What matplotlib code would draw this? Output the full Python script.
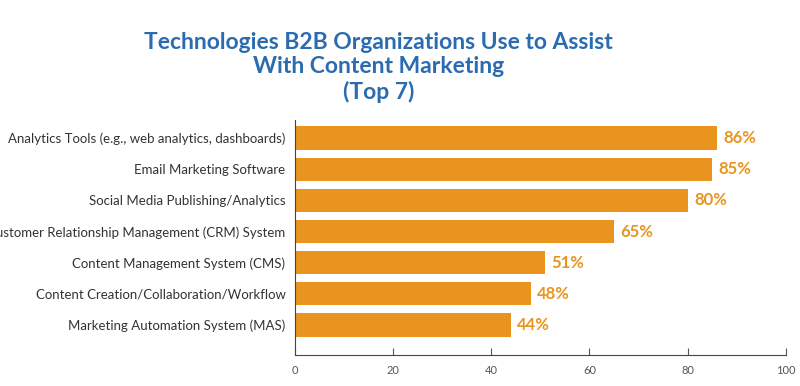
import matplotlib
matplotlib.use('Agg')
import matplotlib.pyplot as plt

categories = ['Analytics Tools (e.g., web analytics, dashboards)',
              'Email Marketing Software',
              'Social Media Publishing/Analytics',
              'Customer Relationship Management (CRM) System',
              'Content Management System (CMS)',
              'Content Creation/Collaboration/Workflow',
              'Marketing Automation System (MAS)']
values = [86, 85, 80, 65, 51, 48, 44]
ticks = [0, 20, 40, 60, 80, 100]

plt.rcParams['font.family'] = ['Lato', 'DejaVu Sans']

orange = '#E8941F'
blue = '#2B6CB0'

fig = plt.figure(figsize=(8, 3.86), dpi=100)
ax = fig.add_axes([0.369, 0.080, 0.613, 0.609])

y = list(range(len(categories)))
ax.barh(y, values, height=0.75, color=orange)
for yi, v in zip(y, values):
    ax.text(v + 1.3, yi, f'{v}%', va='center', ha='left', color=orange,
            fontsize=12, fontweight='bold')

ax.set_yticks(y)
ax.set_yticklabels(categories, fontsize=9.5, color='#333333')
ax.tick_params(axis='y', length=0, pad=7)
ax.set_ylim(6.97, -0.58)
ax.set_xlim(0, 100)
ax.set_xticks(ticks)
ax.tick_params(axis='x', direction='in', length=5, colors='#555555',
               labelsize=8, pad=7)
for s in ['top', 'right']:
    ax.spines[s].set_visible(False)
for s in ['left', 'bottom']:
    ax.spines[s].set_color('#444444')

fig.text(0.473, 0.826, 'Technologies B2B Organizations Use to Assist\nWith Content Marketing\n(Top 7)',
         ha='center', va='center', fontsize=16.5, fontweight='bold', color=blue,
         linespacing=1.2)

fig.savefig('out.png', dpi=100, facecolor='white')
